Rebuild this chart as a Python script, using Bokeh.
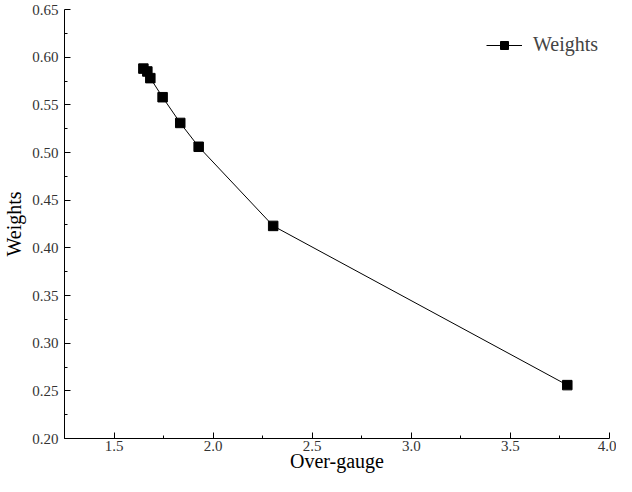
from bokeh.plotting import figure
from bokeh.models import Range1d, FixedTicker, PrintfTickFormatter, Legend, LegendItem
from bokeh.embed import file_html
from bokeh.resources import INLINE

# Data
over_gauge = [1.648, 1.668, 1.683, 1.745, 1.834, 1.927, 2.303, 3.787]
weights = [0.588, 0.585, 0.578, 0.558, 0.531, 0.506, 0.423, 0.256]

x_major = [1.5, 2.0, 2.5, 3.0, 3.5, 4.0]
x_minor = [1.25, 1.75, 2.25, 2.75, 3.25, 3.75]
y_major = [0.20, 0.25, 0.30, 0.35, 0.40, 0.45, 0.50, 0.55, 0.60, 0.65]
y_minor = [0.225, 0.275, 0.325, 0.375, 0.425, 0.475, 0.525, 0.575, 0.625]
x_title = "Over-gauge"
y_title = "Weights"

FONT = "Liberation Serif"

p = figure(width=616, height=476, output_backend="svg", toolbar_location=None,
           x_range=Range1d(1.25, 4.0), y_range=Range1d(0.20, 0.65),
           min_border_left=56, min_border_right=7, min_border_top=9, min_border_bottom=38)
p.outline_line_color = None
p.xgrid.visible = False
p.ygrid.visible = False
p.background_fill_color = "white"
p.border_fill_color = "white"

ln = p.line(over_gauge, weights, line_color="black", line_width=1)
sc = p.scatter(over_gauge, weights, marker="square", size=9.5, fill_color="black", line_color="black")

for ax, maj, mino, fmt in [(p.xaxis[0], x_major, x_minor, "%.1f"), (p.yaxis[0], y_major, y_minor, "%.2f")]:
    ax.ticker = FixedTicker(ticks=maj, minor_ticks=mino)
    ax.formatter = PrintfTickFormatter(format=fmt)
    ax.major_tick_in = 6
    ax.major_tick_out = 0
    ax.minor_tick_in = 3
    ax.minor_tick_out = 0
    ax.axis_line_color = "black"
    ax.major_tick_line_color = "black"
    ax.minor_tick_line_color = "black"
    ax.major_label_text_font = FONT
    ax.major_label_text_font_size = "15px"
    ax.major_label_text_color = "#333333"
    ax.axis_label_text_font = FONT
    ax.axis_label_text_font_size = "20px"
    ax.axis_label_text_font_style = "normal"
    ax.axis_label_text_color = "black"

p.xaxis.axis_label = x_title
p.yaxis.axis_label = y_title
p.xaxis.major_label_standoff = 2
p.xaxis.axis_label_standoff = -4
p.yaxis.major_label_standoff = 6
p.yaxis.axis_label_standoff = 4

legend = Legend(items=[LegendItem(label="Weights", renderers=[ln, sc])],
                location=(422, 382), padding=0, margin=0, glyph_width=36, glyph_height=20,
                label_standoff=11, label_text_font=FONT, label_text_font_size="20px",
                border_line_color=None, background_fill_alpha=0)
p.add_layout(legend, "center")

open("out.html", "w").write(file_html(p, INLINE))
